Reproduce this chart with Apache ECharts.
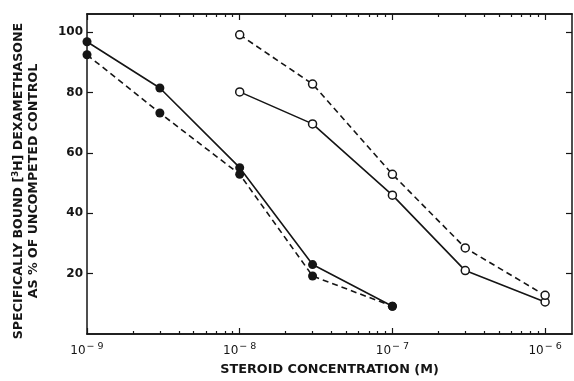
<!DOCTYPE html>
<html>
<head>
<meta charset="utf-8">
<script src="https://cdn.jsdelivr.net/npm/echarts@6/dist/echarts.min.js"></script>
<style>
  html, body { margin: 0; padding: 0; background: #fff; }
  #chart { width: 574px; height: 381px; }
</style>
</head>
<body>
<div id="chart"></div>
<script>
// steroid concentrations (M)
const concFilled = [1e-9, 3e-9, 1e-8, 3e-8, 1e-7];
const concOpen = [1e-8, 3e-8, 1e-7, 3e-7, 1e-6];

// % of uncompeted control
const filledSolid = [96.8, 81.5, 55.1, 23.0, 9.2];
const filledDashed = [92.5, 73.2, 52.9, 19.2, 9.2];
const openSolid = [80.2, 69.6, 46.0, 21.0, 10.6];
const openDashed = [99.1, 82.8, 52.9, 28.5, 12.8];

const majorTicks = [1e-9, 1e-8, 1e-7, 1e-6];
const minorTicks = [
  2e-9, 3e-9, 4e-9, 5e-9, 6e-9, 7e-9, 8e-9, 9e-9,
  2e-8, 3e-8, 4e-8, 5e-8, 6e-8, 7e-8, 8e-8, 9e-8,
  2e-7, 3e-7, 4e-7, 5e-7, 6e-7, 7e-7, 8e-7, 9e-7
];
const yTicks = [20, 40, 60, 80, 100];

const ink = '#151515';
const font = 'DejaVu Sans';

const pairs = (xs, ys) => xs.map((x, i) => [x, ys[i]]);

const chart = echarts.init(document.getElementById('chart'));

const lineStyle = { color: ink, width: 1.5 };
const tickStyle = { color: ink, width: 1.2 };

const baseX = {
  type: 'log',
  logBase: 10,
  min: 1e-9,
  max: 1.5e-6,
  splitLine: { show: false },
  axisLine: { show: true, lineStyle: lineStyle }
};

const option = {
  animation: false,
  grid: { left: 87, right: 2, top: 14, bottom: 46 },
  xAxis: [
    Object.assign({}, baseX, {
      position: 'bottom',
      axisTick: { show: true, inside: true, length: 6, customValues: majorTicks, lineStyle: tickStyle },
      axisLabel: {
        customValues: majorTicks,
        margin: 8,
        formatter: v => '10{sup|− ' + Math.round(-Math.log10(v)) + '}',
        color: ink,
        fontFamily: font,
        fontSize: 12,
        rich: {
          sup: { fontSize: 9.5, fontFamily: font, color: ink, padding: [0, 0, 7, 1] }
        }
      },
      name: 'STEROID CONCENTRATION (M)',
      nameLocation: 'middle',
      nameGap: 29,
      nameTextStyle: { color: ink, fontFamily: font, fontSize: 12.8, fontWeight: 'bold' }
    }),
    Object.assign({}, baseX, {
      position: 'bottom',
      axisTick: { show: true, inside: true, length: 3, customValues: minorTicks, lineStyle: tickStyle },
      axisLabel: { show: false }
    }),
    Object.assign({}, baseX, {
      position: 'top',
      axisTick: { show: true, inside: true, length: 6, customValues: majorTicks, lineStyle: tickStyle },
      axisLabel: { show: false }
    }),
    Object.assign({}, baseX, {
      position: 'top',
      axisTick: { show: true, inside: true, length: 3, customValues: minorTicks, lineStyle: tickStyle },
      axisLabel: { show: false }
    })
  ],
  yAxis: [
    {
      type: 'value',
      position: 'left',
      min: 0,
      max: 106,
      interval: 20,
      splitLine: { show: false },
      axisLine: { show: true, lineStyle: lineStyle },
      axisTick: { show: true, inside: true, length: 6, customValues: yTicks, lineStyle: tickStyle },
      axisLabel: {
        customValues: yTicks,
        margin: 4,
        color: ink,
        fontFamily: font,
        fontSize: 12,
        fontWeight: 'bold'
      },
      name: 'SPECIFICALLY BOUND [{sup|3}H] DEXAMETHASONE\nAS % OF UNCOMPETED CONTROL',
      nameLocation: 'middle',
      nameGap: 46,
      nameTextStyle: {
        color: ink,
        fontFamily: font,
        fontSize: 12.6,
        fontWeight: 'bold',
        lineHeight: 15,
        padding: [0, 14, 0, 0],
        rich: {
          sup: { fontSize: 8.5, fontFamily: font, fontWeight: 'bold', color: ink, padding: [0, 0, 6, 0] }
        }
      }
    },
    {
      type: 'value',
      position: 'right',
      min: 0,
      max: 106,
      interval: 20,
      splitLine: { show: false },
      axisLine: { show: true, lineStyle: lineStyle },
      axisTick: { show: true, inside: true, length: 6, customValues: yTicks, lineStyle: tickStyle },
      axisLabel: { show: false }
    }
  ],
  series: [
    {
      type: 'line',
      data: pairs(concFilled, filledSolid),
      symbol: 'circle',
      symbolSize: 9,
      itemStyle: { color: ink },
      lineStyle: { color: ink, width: 1.6 }
    },
    {
      type: 'line',
      data: pairs(concFilled, filledDashed),
      symbol: 'circle',
      symbolSize: 9,
      itemStyle: { color: ink },
      lineStyle: { color: ink, width: 1.6, type: [6, 4] }
    },
    {
      type: 'line',
      data: pairs(concOpen, openSolid),
      symbol: 'circle',
      symbolSize: 8,
      itemStyle: { color: '#fff', borderColor: ink, borderWidth: 1.5 },
      lineStyle: { color: ink, width: 1.6 }
    },
    {
      type: 'line',
      data: pairs(concOpen, openDashed),
      symbol: 'circle',
      symbolSize: 8,
      itemStyle: { color: '#fff', borderColor: ink, borderWidth: 1.5 },
      lineStyle: { color: ink, width: 1.6, type: [6, 4] }
    }
  ]
};

chart.setOption(option);
</script>
</body>
</html>
